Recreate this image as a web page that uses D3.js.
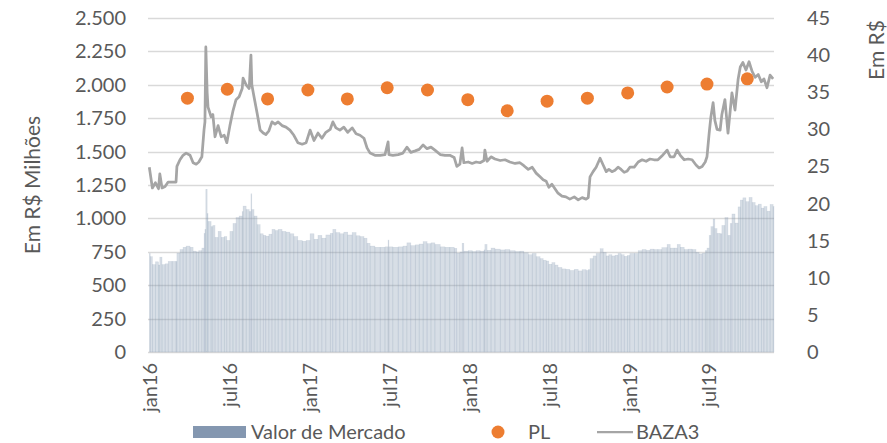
<!DOCTYPE html>
<html>
<head>
<meta charset="utf-8">
<script src="https://cdn.jsdelivr.net/npm/d3@7"></script>
<style>
  body { margin: 0; background: #fff; }
  text { font-family: Lato, "Noto Sans", sans-serif; fill: #595959; }
</style>
</head>
<body>
<div id="chart"></div>
<script>
// datas (semanais aprox.)
var datas = [
  "2016-01-04","2016-01-06","2016-01-11","2016-01-18","2016-01-25","2016-01-28","2016-02-02","2016-02-09","2016-02-16","2016-02-25",
  "2016-03-05","2016-03-07","2016-03-14","2016-03-21","2016-03-28","2016-04-06","2016-04-13","2016-04-20","2016-04-26","2016-05-03",
  "2016-05-08","2016-05-10","2016-05-12","2016-05-15","2016-05-17","2016-05-24","2016-05-28","2016-06-02","2016-06-09","2016-06-16",
  "2016-06-23","2016-06-29","2016-07-06","2016-07-13","2016-07-20","2016-07-27","2016-08-03","2016-08-05","2016-08-12","2016-08-19",
  "2016-08-23","2016-08-25","2016-08-30","2016-09-06","2016-09-13","2016-09-20","2016-09-26","2016-10-03","2016-10-10","2016-10-17",
  "2016-10-24","2016-11-02","2016-11-11","2016-11-20","2016-11-29","2016-12-08","2016-12-18","2016-12-27","2017-01-05","2017-01-14",
  "2017-01-23","2017-02-01","2017-02-10","2017-02-20","2017-02-26","2017-03-05","2017-03-14","2017-03-23","2017-04-01","2017-04-11",
  "2017-04-20","2017-04-29","2017-05-08","2017-05-15","2017-05-22","2017-06-02","2017-06-14","2017-06-25","2017-07-02","2017-07-04",
  "2017-07-13","2017-07-25","2017-08-05","2017-08-14","2017-08-23","2017-09-02","2017-09-11","2017-09-20","2017-09-29","2017-10-08",
  "2017-10-17","2017-10-29","2017-11-09","2017-11-20","2017-11-30","2017-12-06","2017-12-13","2017-12-18","2017-12-22","2018-01-01",
  "2018-01-10","2018-01-19","2018-01-28","2018-02-06","2018-02-08","2018-02-13","2018-02-22","2018-03-03","2018-03-15","2018-03-26",
  "2018-04-06","2018-04-18","2018-04-29","2018-05-08","2018-05-18","2018-05-27","2018-06-05","2018-06-14","2018-06-21","2018-06-28",
  "2018-07-04","2018-07-11","2018-07-18","2018-07-25","2018-08-03","2018-08-12","2018-08-21","2018-08-31","2018-09-09","2018-09-18",
  "2018-09-27","2018-10-02","2018-10-06","2018-10-13","2018-10-20","2018-10-29","2018-11-05","2018-11-12","2018-11-18","2018-11-25",
  "2018-12-02","2018-12-09","2018-12-16","2018-12-23","2018-12-30","2019-01-05","2019-01-15","2019-01-24","2019-02-02","2019-02-11",
  "2019-02-20","2019-03-01","2019-03-10","2019-03-19","2019-03-31","2019-04-07","2019-04-16","2019-04-23","2019-04-30","2019-05-09",
  "2019-05-18","2019-05-27","2019-06-05","2019-06-12","2019-06-19","2019-06-26","2019-06-30","2019-07-05","2019-07-09","2019-07-14",
  "2019-07-18","2019-07-23","2019-07-30","2019-08-03","2019-08-10","2019-08-17","2019-08-22","2019-08-26","2019-09-02","2019-09-09",
  "2019-09-14","2019-09-20","2019-09-27","2019-10-04","2019-10-11","2019-10-18","2019-10-25","2019-11-01","2019-11-07","2019-11-14",
  "2019-11-21","2019-11-28"
];

// BAZA3 (R$, eixo direito)
var baza3 = [
  24.9,24.1,22.1,22.8,22.0,24.0,22.1,22.3,22.9,22.9,
  22.9,25.0,25.9,26.5,26.8,26.5,25.5,25.3,25.6,26.3,
  30.0,31.0,41.1,35.0,33.0,31.7,32.0,29.0,30.5,29.0,
  29.2,28.2,30.5,32.5,34.0,34.4,35.5,36.9,36.0,35.5,
  40.0,36.0,34.4,32.2,29.9,29.5,29.3,29.8,31.0,30.7,
  31.0,30.5,30.3,29.9,29.2,28.2,28.0,28.2,29.9,28.5,
  29.5,28.8,29.6,30.0,31.0,30.2,29.9,30.3,29.6,30.2,
  29.4,29.2,28.8,27.5,26.8,26.5,26.5,26.6,28.3,26.6,
  26.5,26.6,26.8,27.6,26.9,27.1,27.3,27.9,27.4,27.6,
  27.2,26.6,26.5,26.5,26.2,25.0,25.3,27.5,25.5,25.6,
  25.4,25.6,25.5,25.8,27.2,25.7,26.3,26.0,25.8,25.9,
  25.6,25.4,25.5,25.1,24.6,24.9,24.1,23.6,23.2,23.0,
  22.2,22.6,22.0,21.4,21.0,20.9,20.6,20.9,20.5,20.8,
  20.6,20.8,23.6,24.3,24.9,26.1,25.2,24.3,24.6,24.3,
  24.5,24.9,24.6,24.2,24.4,24.9,24.9,25.6,25.9,25.7,
  26.0,25.9,25.9,26.4,27.2,26.3,26.3,27.2,26.5,25.9,
  26.0,25.9,25.2,24.8,25.0,25.6,26.3,29.5,31.7,33.6,
  31.2,30.0,29.9,32.0,34.0,29.5,32.5,34.9,32.6,36.7,
  38.4,39.0,38.0,39.1,37.8,37.0,37.4,36.4,36.8,35.6,
  37.3,36.8
];

// Valor de Mercado (R$ milhoes, eixo esquerdo)
var valorMercado = [
  737,713,654,675,651,710,654,660,678,678,
  678,740,767,784,793,784,755,749,758,778,
  888,918,1217,1036,977,938,947,858,903,858,
  864,835,903,962,1006,1018,1051,1092,1066,1051,
  1184,1066,1018,953,885,873,867,882,918,909,
  918,903,897,885,864,835,829,835,885,844,
  873,852,876,888,918,894,885,897,876,894,
  870,864,852,814,793,784,784,787,838,787,
  784,787,793,817,796,802,808,826,811,817,
  805,787,784,784,776,740,749,814,755,758,
  752,758,755,764,805,761,778,770,764,767,
  758,752,755,743,728,737,713,699,687,681,
  657,669,651,633,622,619,610,619,607,616,
  610,616,699,719,737,773,746,719,728,719,
  725,737,728,716,722,737,737,758,767,761,
  770,767,767,781,805,778,778,805,784,767,
  770,767,746,734,740,758,778,873,938,995,
  924,888,885,947,1006,873,962,1033,965,1086,
  1137,1154,1125,1157,1119,1095,1107,1077,1089,1054,
  1104,1089
];

// PL trimestral (R$, eixo direito)
var plDatas = ["2016-03-31","2016-06-30","2016-09-30","2016-12-31","2017-03-31","2017-06-30","2017-09-30","2017-12-31",
               "2018-03-31","2018-06-30","2018-09-30","2018-12-31","2019-03-31","2019-06-30","2019-09-30"];
var plValores = [34.2,35.4,34.1,35.3,34.1,35.6,35.3,34.0,32.5,33.8,34.2,34.9,35.7,36.1,36.8];

var leftTicks = [0,250,500,750,1000,1250,1500,1750,2000,2250,2500];
var rightTicks = [0,5,10,15,20,25,30,35,40,45];
var legendNames = ["Valor de Mercado","PL","BAZA3"];

var W = 887, H = 443;
var margin = { top: 18, right: 113, bottom: 91, left: 148 },
    width = W - margin.left - margin.right,
    height = H - margin.top - margin.bottom;

var parse = d3.timeParse("%Y-%m-%d");
var pt = d3.formatLocale({ decimal: ",", thousands: ".", grouping: [3], currency: ["R$", ""] });
var fmt = pt.format(",d");
var meses = ["jan","fev","mar","abr","mai","jun","jul","ago","set","out","nov","dez"];

var svg = d3.select("#chart")
    .append("svg")
    .attr("width", W)
    .attr("height", H)
    .append("g")
    .attr("transform", "translate(" + margin.left + "," + margin.top + ")");

var x = d3.scaleTime()
    .domain([parse("2016-01-01"), parse("2019-11-30")])
    .range([0, width]);

var yL = d3.scaleLinear().domain([0, 2500]).range([height, 0]);
var yR = d3.scaleLinear().domain([0, 45]).range([height, 0]);

// gridlines
svg.append("g")
    .selectAll("line")
    .data(leftTicks)
    .join("line")
    .attr("x1", 0)
    .attr("x2", width)
    .attr("y1", function (d) { return Math.round(yL(d)) + 0.5; })
    .attr("y2", function (d) { return Math.round(yL(d)) + 0.5; })
    .attr("stroke", "#d9d9d9")
    .attr("stroke-width", 1.5);

// left axis labels
svg.append("g")
    .selectAll("text")
    .data(leftTicks)
    .join("text")
    .attr("x", -22)
    .attr("y", function (d) { return yL(d); })
    .attr("dy", "0.35em")
    .attr("text-anchor", "end")
    .style("font-size", "20px")
    .text(function (d) { return fmt(d); });

// right axis labels
svg.append("g")
    .selectAll("text")
    .data(rightTicks)
    .join("text")
    .attr("x", width + 33)
    .attr("y", function (d) { return yR(d); })
    .attr("dy", "0.35em")
    .attr("text-anchor", "start")
    .style("font-size", "20px")
    .text(function (d) { return d; });

// x labels (jan / jul)
var xTicks = x.ticks(d3.timeMonth.every(6));
svg.append("g")
    .selectAll("text")
    .data(xTicks)
    .join("text")
    .attr("transform", function (d) { return "translate(" + (x(d) + 2) + "," + (height + 11) + ") rotate(-90)"; })
    .attr("text-anchor", "end")
    .attr("dy", "0.35em")
    .style("font-size", "20px")
    .text(function (d) { return meses[d.getMonth()] + d3.timeFormat("%y")(d); });

// axis titles
svg.append("text")
    .attr("transform", "translate(" + (33 - margin.left) + "," + (185 - margin.top) + ") rotate(-90)")
    .attr("text-anchor", "middle")
    .attr("dy", "0.35em")
    .style("font-size", "21px")
    .text("Em R$ Milhões");

svg.append("text")
    .attr("transform", "translate(" + (877 - margin.left) + "," + (50 - margin.top) + ") rotate(-90)")
    .attr("text-anchor", "middle")
    .attr("dy", "0.35em")
    .style("font-size", "21px")
    .text("Em R$");

// bars
var serie = datas.map(function (d, i) { return { d: parse(d), v: valorMercado[i], p: baza3[i] }; });
svg.append("g")
    .selectAll("rect")
    .data(serie)
    .join("rect")
    .attr("x", function (d) { return x(d.d); })
    .attr("width", function (d, i) {
        var next = i < serie.length - 1 ? x(serie[i + 1].d) : width;
        return Math.max(0.8, next - x(d.d));
    })
    .attr("y", function (d) { return yL(d.v); })
    .attr("height", function (d) { return height - yL(d.v); })
    .attr("fill", "#8497b0")
    .attr("fill-opacity", 0.32)
    .attr("stroke", "#8497b0")
    .attr("stroke-width", 0.5)
    .attr("stroke-opacity", 0.25);

// BAZA3 line
svg.append("path")
    .datum(serie)
    .attr("fill", "none")
    .attr("stroke", "#a5a5a5")
    .attr("stroke-width", 2.75)
    .attr("stroke-linejoin", "round")
    .attr("d", d3.line()
        .x(function (d) { return x(d.d); })
        .y(function (d) { return yR(d.p); })
    );

// PL dots
svg.append("g")
    .selectAll("circle")
    .data(plDatas)
    .join("circle")
    .attr("cx", function (d) { return x(parse(d)); })
    .attr("cy", function (d, i) { return yR(plValores[i]); })
    .attr("r", 6.5)
    .attr("fill", "#ed7d31");

// legend
var leg = svg.append("g").attr("transform", "translate(0," + (432 - margin.top) + ")");
leg.append("rect")
    .attr("x", 193 - margin.left).attr("y", -6)
    .attr("width", 53).attr("height", 12)
    .attr("fill", "#8497b0");
leg.append("text")
    .attr("x", 251 - margin.left).attr("dy", "0.35em")
    .style("font-size", "20px")
    .text(legendNames[0]);
leg.append("circle")
    .attr("cx", 498 - margin.left).attr("cy", 0)
    .attr("r", 6.5).attr("fill", "#ed7d31");
leg.append("text")
    .attr("x", 528 - margin.left).attr("dy", "0.35em")
    .style("font-size", "20px")
    .text(legendNames[1]);
leg.append("line")
    .attr("x1", 597 - margin.left).attr("x2", 633 - margin.left)
    .attr("stroke", "#a5a5a5").attr("stroke-width", 2.25);
leg.append("text")
    .attr("x", 636 - margin.left).attr("dy", "0.35em")
    .style("font-size", "20px")
    .text(legendNames[2]);
</script>
</body>
</html>
